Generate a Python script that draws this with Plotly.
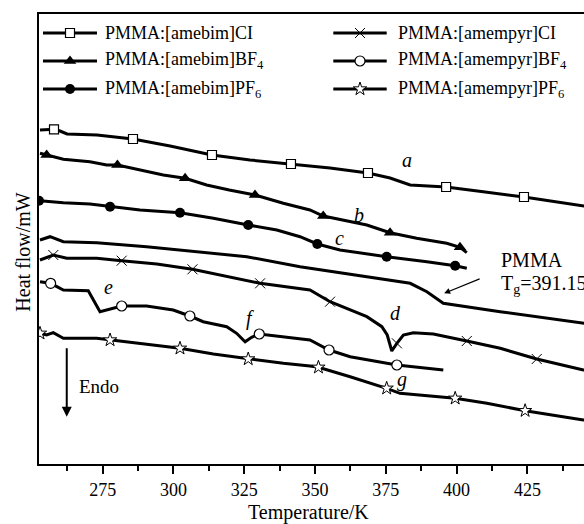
import plotly.graph_objects as go

# ---------------- data (Temperature / K, heat flow in arbitrary offset units) ----------------
a_x = [252.85, 257.8, 259.9, 262.4, 273.0, 285.7, 298.8, 313.6, 327.0, 341.5, 355.3, 368.7, 376.5, 383.6, 396.3, 410.1, 423.8, 445.0, 452.0]
a_y = [33.4, 33.47, 33.3, 33.0, 32.9, 32.5, 31.8, 30.9, 30.4, 30.0, 29.6, 29.1, 28.6, 27.9, 27.7, 27.2, 26.7, 25.8, 25.6]
a_mx = [257.8, 285.7, 313.6, 341.5, 368.7, 396.3, 423.8]
a_my = [33.47, 32.5, 30.9, 30.0, 29.1, 27.7, 26.7]

b_x = [252.85, 255.2, 261.1, 270.5, 276.4, 280.2, 288.2, 296.4, 304.1, 311.7, 319.7, 328.8, 338.8, 348.2, 352.9, 368.3, 376.5, 385.9, 396.5, 401.2, 403.6]
b_y = [31.07, 30.9, 30.47, 30.23, 29.9, 29.9, 29.4, 28.9, 28.57, 27.9, 27.4, 26.9, 26.07, 25.4, 24.8, 23.9, 23.13, 22.57, 22.07, 21.67, 21.13]
b_mx = [255.2, 280.2, 304.1, 328.8, 352.9, 376.5, 401.2]
b_my = [30.9, 29.9, 28.57, 26.9, 24.8, 23.13, 21.67]

c_x = [252.85, 261.1, 270.5, 277.6, 288.2, 302.3, 314.1, 326.4, 336.5, 344.7, 350.8, 358.8, 375.3, 389.5, 399.5, 403.6]
c_y = [26.33, 26.13, 26.0, 25.73, 25.4, 25.13, 24.57, 23.9, 23.4, 22.73, 22.0, 21.4, 20.73, 20.23, 19.83, 19.57]
c_mx = [252.5, 277.6, 302.3, 326.4, 350.8, 375.3, 399.5]
c_my = [26.33, 25.73, 25.13, 23.9, 22.0, 20.73, 19.83]

p_x = [252.85, 256.4, 261.1, 272.9, 290.5, 308.2, 325.9, 344.7, 368.3, 383.6, 389.5, 394.2, 395.3, 415.4, 444.8, 452.0]
p_y = [22.4, 22.73, 22.23, 22.13, 21.73, 21.23, 20.73, 19.73, 18.73, 18.07, 17.23, 16.33, 16.07, 15.23, 14.07, 13.8]

d_x = [252.85, 257.55, 262.3, 272.9, 281.7, 294.1, 306.7, 319.5, 330.6, 348.2, 355.3, 368.3, 373.6, 375.5, 377.1, 378.9, 381.2, 384.7, 391.8, 403.6, 415.4, 428.3, 444.8, 452.0]
d_y = [20.4, 20.9, 20.57, 20.57, 20.33, 20.0, 19.47, 18.73, 18.07, 17.4, 16.23, 14.73, 13.73, 12.9, 11.3, 12.07, 12.9, 13.13, 13.0, 12.3, 11.57, 10.5, 9.4, 9.1]
d_mx = [257.55, 281.7, 306.7, 330.6, 355.3, 378.9, 403.6, 428.3]
d_my = [20.9, 20.33, 19.47, 18.07, 16.23, 12.07, 12.3, 10.5]

e_x = [252.85, 256.6, 261.1, 269.9, 274.05, 278.75, 281.7, 290.5, 299.9, 305.8, 310.5, 318.8, 322.3, 325.3, 327.6, 330.3, 338.8, 348.2, 354.95, 362.4, 378.9, 385.9, 395.3]
e_y = [18.23, 18.07, 17.4, 17.33, 15.23, 15.57, 15.8, 15.8, 15.4, 14.8, 14.23, 13.73, 13.07, 12.23, 12.67, 13.0, 12.73, 12.4, 11.4, 10.73, 9.9, 9.67, 9.4]
e_mx = [256.6, 281.7, 305.8, 330.3, 354.95, 378.9]
e_my = [18.07, 15.8, 14.8, 13.0, 11.4, 9.9]

g_x = [252.85, 255.2, 257.55, 261.1, 272.9, 277.6, 288.2, 302.3, 314.1, 326.4, 338.8, 348.2, 351.2, 362.4, 371.8, 375.3, 380.0, 399.5, 410.7, 424.2, 444.8, 452.0]
g_y = [13.07, 12.9, 13.13, 12.57, 12.57, 12.4, 12.07, 11.57, 11.0, 10.5, 10.07, 9.8, 9.67, 8.73, 7.9, 7.57, 7.07, 6.57, 6.07, 5.33, 4.4, 4.2]
g_mx = [252.85, 277.6, 302.3, 326.4, 351.2, 375.3, 399.5, 424.2]
g_my = [13.07, 12.4, 11.57, 10.5, 9.67, 7.57, 6.57, 5.33]

legend_names = ["PMMA:[amebim]CI", "PMMA:[amebim]BF<sub>4</sub>", "PMMA:[amebim]PF<sub>6</sub>",
                "PMMA:[amempyr]CI", "PMMA:[amempyr]BF<sub>4</sub>", "PMMA:[amempyr]PF<sub>6</sub>"]

curve_labels = ["a", "b", "c", "d", "e", "f", "g"]
curve_label_x = [382.5, 365.5, 358.8, 378.3, 277.2, 327.0, 380.6]
curve_label_y = [30.4, 24.9, 22.6, 15.07, 17.73, 14.57, 8.47]

x_ticks = [275, 300, 325, 350, 375, 400, 425]
x_minor = [262.5, 287.5, 312.5, 337.5, 362.5, 387.5, 412.5, 437.5]
x_range = [252.5, 445.0]
y_range = [0, 45]

FONT = "Liberation Serif"

# marker styles for the six samples
styles = [
    dict(symbol="square", size=9, color="white", line=dict(color="black", width=1.2)),
    dict(symbol="triangle-up", size=11, color="black", line=dict(color="black", width=0)),
    dict(symbol="circle", size=10, color="black", line=dict(color="black", width=0)),
    dict(symbol="x-thin-open", size=10, color="black", line=dict(color="black", width=1)),
    dict(symbol="circle", size=10, color="white", line=dict(color="black", width=1.2)),
    dict(symbol="star", size=10, color="white", line=dict(color="black", width=1)),
]

fig = go.Figure()

LW = 3
curves = [(a_x, a_y, a_mx, a_my, 0), (b_x, b_y, b_mx, b_my, 1), (c_x, c_y, c_mx, c_my, 2),
          (d_x, d_y, d_mx, d_my, 3), (e_x, e_y, e_mx, e_my, 4), (g_x, g_y, g_mx, g_my, 5)]

fig.add_trace(go.Scatter(x=p_x, y=p_y, mode="lines", line=dict(color="black", width=LW),
                         showlegend=False, hoverinfo="skip"))
for cx, cy, mx, my, si in curves:
    fig.add_trace(go.Scatter(x=cx, y=cy, mode="lines", line=dict(color="black", width=LW),
                             showlegend=False, hoverinfo="skip"))
for cx, cy, mx, my, si in curves:
    fig.add_trace(go.Scatter(x=mx, y=my, mode="markers", marker=styles[si],
                             showlegend=False, hoverinfo="skip"))

# manual legend on an overlay axis spanning 0..1 of the plot area
leg_col_x = [(0.0073, 0.0569, 0.1064), (0.540, 0.589, 0.638)]
leg_row_y = [0.9578, 0.8956, 0.8333]
leg_text_x = [0.118, 0.655]
for i, name in enumerate(legend_names):
    col, row = divmod(i, 3)
    x0, xm, x1 = leg_col_x[col]
    yy = leg_row_y[row]
    fig.add_trace(go.Scatter(x=[x0, x1], y=[yy, yy], xaxis="x2", yaxis="y2", mode="lines",
                             line=dict(color="black", width=LW), showlegend=False, hoverinfo="skip"))
    fig.add_trace(go.Scatter(x=[xm], y=[yy], xaxis="x2", yaxis="y2", mode="markers",
                             marker=styles[i], showlegend=False, hoverinfo="skip"))
    fig.add_annotation(x=leg_text_x[col], y=yy, xref="paper", yref="paper", text=name,
                       showarrow=False, xanchor="left", yanchor="middle",
                       font=dict(family=FONT, size=18, color="black"))

# curve labels
for t, lx, ly in zip(curve_labels, curve_label_x, curve_label_y):
    fig.add_annotation(x=lx, y=ly, text="<i>%s</i>" % t, showarrow=False,
                       font=dict(family=FONT, size=20, color="black"))

# PMMA Tg annotation
fig.add_annotation(x=395.6, y=17.07, ax=37, ay=-15, text="", showarrow=True,
                   arrowhead=2, arrowsize=1, arrowwidth=1.2, arrowcolor="black")
fig.add_annotation(x=415.0, y=20.4, text="PMMA", showarrow=False, xanchor="left", yanchor="middle",
                   font=dict(family=FONT, size=20, color="black"))
fig.add_annotation(x=415.0, y=18.0, text="T<sub>g</sub>=391.15 K", showarrow=False, xanchor="left",
                   yanchor="middle", font=dict(family=FONT, size=20, color="black"))

# Endo arrow
fig.add_annotation(x=262.3, y=4.73, ax=0, ay=-70, text="", showarrow=True,
                   arrowhead=2, arrowsize=1, arrowwidth=2, arrowcolor="black")
fig.add_annotation(x=273.6, y=7.73, text="Endo", showarrow=False,
                   font=dict(family=FONT, size=19, color="black"))

# axis titles
fig.add_annotation(x=0.4954, y=-0.1067, xref="paper", yref="paper", text="Temperature/K",
                   showarrow=False, xanchor="center", yanchor="middle",
                   font=dict(family=FONT, size=20, color="black"))
fig.add_annotation(x=-0.0294, y=0.4718, xref="paper", yref="paper", text="Heat flow/mW",
                   showarrow=False, textangle=-90, xanchor="center", yanchor="middle",
                   font=dict(family=FONT, size=20, color="black"))

fig.update_layout(
    width=584, height=524,
    margin=dict(l=39, r=0, t=14, b=60),
    paper_bgcolor="white", plot_bgcolor="white",
    font=dict(family=FONT, size=18, color="black"),
    xaxis=dict(range=x_range, tickvals=x_ticks, ticks="outside", ticklen=8, tickwidth=1.5,
               tickcolor="black", showline=True, linecolor="black", linewidth=2, mirror=True,
               showgrid=False, zeroline=False, tickfont=dict(family=FONT, size=18, color="black"),
               minor=dict(tickvals=x_minor, ticks="outside", ticklen=5, tickwidth=1.5,
                          tickcolor="black")),
    yaxis=dict(range=y_range, showticklabels=False, ticks="", showline=True, linecolor="black",
               linewidth=2, mirror=False, showgrid=False, zeroline=False),
    xaxis2=dict(overlaying="x", range=[0, 1], visible=False, fixedrange=True),
    yaxis2=dict(overlaying="y", range=[0, 1], visible=False, fixedrange=True),
)

fig.write_html("out.html")
